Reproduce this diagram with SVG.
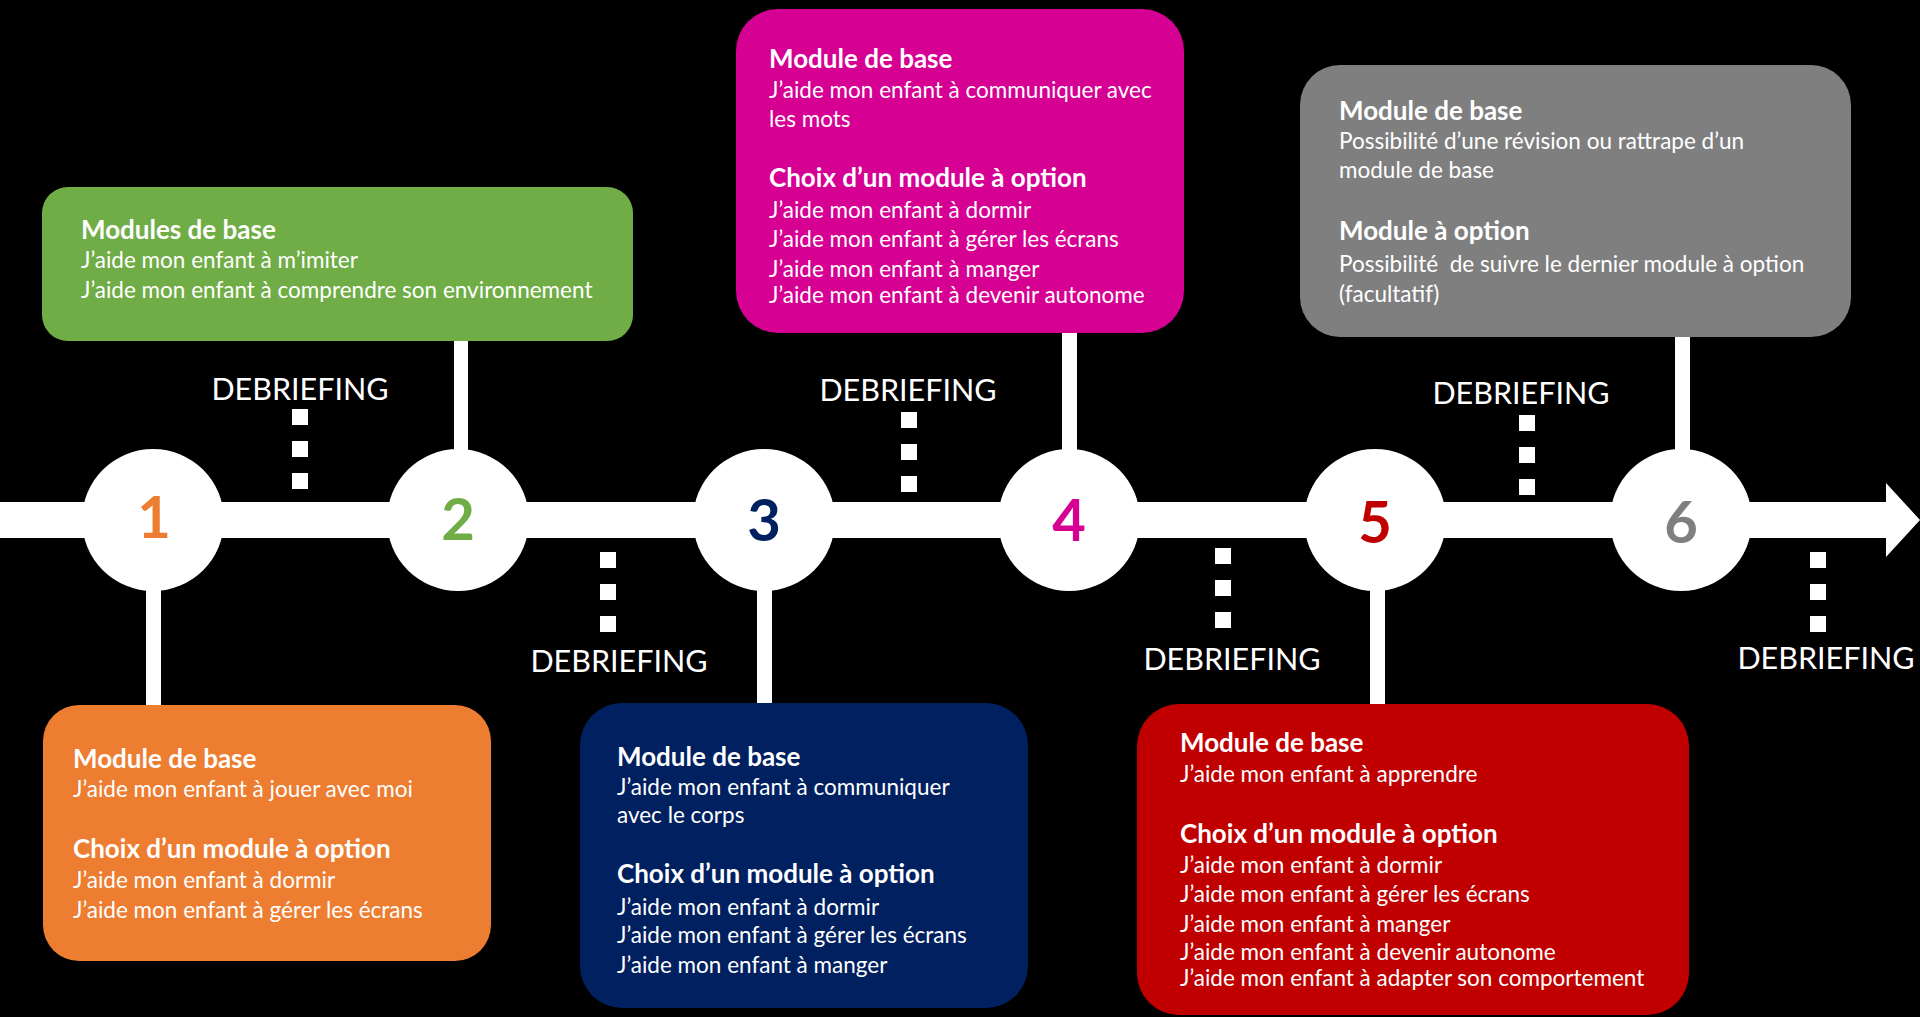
<svg xmlns="http://www.w3.org/2000/svg" width="1920" height="1017" viewBox="0 0 1920 1017">
<style>
text{font-family:Lato,"Liberation Sans",sans-serif;fill:#fff}
.h{font-weight:700;font-size:26px}
.b{font-size:22.5px}
.num{font-weight:700;font-size:58px;text-anchor:middle}
.deb{font-size:30.5px;text-anchor:middle}
.line{fill:#fff}
.dots{stroke:#fff;stroke-width:16;stroke-dasharray:16 16;fill:none}
.circ{fill:#fff}
</style>
<rect width="1920" height="1017" fill="#000"/>
<g id="connectors">
<g id="timeline">
<rect class="line" x="0" y="502" width="1887" height="36"/>
<polygon class="line" points="1886,483 1920,520 1886,557"/>
</g>
<rect class="line" x="146" y="585" width="15" height="122"/>
<rect class="line" x="454" y="339" width="14" height="115"/>
<rect class="line" x="757" y="585" width="15" height="120"/>
<rect class="line" x="1062" y="331" width="15" height="123"/>
<rect class="line" x="1370" y="585" width="15" height="121"/>
<rect class="line" x="1675" y="335" width="15" height="119"/>
</g>
<g id="debriefings">
<g id="debrief-1"><text class="deb" x="300" y="400">DEBRIEFING</text><line class="dots" x1="300" y1="409" x2="300" y2="489"/></g>
<g id="debrief-2"><line class="dots" x1="608" y1="552" x2="608" y2="632"/><text class="deb" x="619" y="672">DEBRIEFING</text></g>
<g id="debrief-3"><text class="deb" x="908" y="401">DEBRIEFING</text><line class="dots" x1="909" y1="412" x2="909" y2="492"/></g>
<g id="debrief-4"><line class="dots" x1="1223" y1="548" x2="1223" y2="628"/><text class="deb" x="1232" y="670">DEBRIEFING</text></g>
<g id="debrief-5"><text class="deb" x="1521" y="404">DEBRIEFING</text><line class="dots" x1="1527" y1="415" x2="1527" y2="495"/></g>
<g id="debrief-6"><line class="dots" x1="1818" y1="552" x2="1818" y2="632"/><text class="deb" x="1826" y="669">DEBRIEFING</text></g>
</g>
<g id="step-1"><circle class="circ" cx="153" cy="520" r="71"/><text class="num" x="154" y="538" style="fill:#ED7D31">1</text></g>
<g id="step-2"><circle class="circ" cx="458" cy="520" r="71"/><text class="num" x="458" y="540" style="fill:#70AD47">2</text></g>
<g id="step-3"><circle class="circ" cx="764" cy="520" r="71"/><text class="num" x="764" y="541" style="fill:#002060">3</text></g>
<g id="step-4"><circle class="circ" cx="1069" cy="520" r="71"/><text class="num" x="1069" y="541" style="fill:#D60093">4</text></g>
<g id="step-5"><circle class="circ" cx="1375" cy="520" r="71"/><text class="num" x="1375" y="543" style="fill:#C00000">5</text></g>
<g id="step-6"><circle class="circ" cx="1681" cy="520" r="71"/><text class="num" x="1681" y="543" style="fill:#7F7F7F">6</text></g>
<g id="box-1">
<rect x="43" y="705" width="448" height="256" rx="36" fill="#ED7D31"/>
<text class="h" x="73" y="768">Module de base</text>
<text class="b" x="73" y="797">J’aide mon enfant à jouer avec moi</text>
<text class="h" x="73" y="858">Choix d’un module à option</text>
<text class="b" x="73" y="888">J’aide mon enfant à dormir</text>
<text class="b" x="73" y="918">J’aide mon enfant à gérer les écrans</text>
</g>
<g id="box-2">
<rect x="42" y="187" width="591" height="154" rx="26" fill="#70AD47"/>
<text class="h" x="81" y="239">Modules de base</text>
<text class="b" x="81" y="268">J’aide mon enfant à m’imiter</text>
<text class="b" x="81" y="298">J’aide mon enfant à comprendre son environnement</text>
</g>
<g id="box-3">
<rect x="580" y="703" width="448" height="305" rx="42" fill="#002060"/>
<text class="h" x="617" y="766">Module de base</text>
<text class="b" x="617" y="795">J’aide mon enfant à communiquer</text>
<text class="b" x="617" y="823">avec le corps</text>
<text class="h" x="617" y="883">Choix d’un module à option</text>
<text class="b" x="617" y="915">J’aide mon enfant à dormir</text>
<text class="b" x="617" y="943">J’aide mon enfant à gérer les écrans</text>
<text class="b" x="617" y="973">J’aide mon enfant à manger</text>
</g>
<g id="box-4">
<rect x="736" y="9" width="448" height="324" rx="42" fill="#D60093"/>
<text class="h" x="769" y="68">Module de base</text>
<text class="b" x="769" y="98">J’aide mon enfant à communiquer avec</text>
<text class="b" x="769" y="127">les mots</text>
<text class="h" x="769" y="187">Choix d’un module à option</text>
<text class="b" x="769" y="218">J’aide mon enfant à dormir</text>
<text class="b" x="769" y="247">J’aide mon enfant à gérer les écrans</text>
<text class="b" x="769" y="277">J’aide mon enfant à manger</text>
<text class="b" x="769" y="303">J’aide mon enfant à devenir autonome</text>
</g>
<g id="box-5">
<rect x="1137" y="704" width="552" height="311" rx="42" fill="#C00000"/>
<text class="h" x="1180" y="752">Module de base</text>
<text class="b" x="1180" y="782">J’aide mon enfant à apprendre</text>
<text class="h" x="1180" y="843">Choix d’un module à option</text>
<text class="b" x="1180" y="873">J’aide mon enfant à dormir</text>
<text class="b" x="1180" y="902">J’aide mon enfant à gérer les écrans</text>
<text class="b" x="1180" y="932">J’aide mon enfant à manger</text>
<text class="b" x="1180" y="960">J’aide mon enfant à devenir autonome</text>
<text class="b" x="1180" y="986">J’aide mon enfant à adapter son comportement</text>
</g>
<g id="box-6">
<rect x="1300" y="65" width="551" height="272" rx="40" fill="#7F7F7F"/>
<text class="h" x="1339" y="120">Module de base</text>
<text class="b" x="1339" y="149">Possibilité d’une révision ou rattrape d’un</text>
<text class="b" x="1339" y="178">module de base</text>
<text class="h" x="1339" y="240">Module à option</text>
<text class="b" x="1339" y="272" xml:space="preserve">Possibilité  de suivre le dernier module à option</text>
<text class="b" x="1339" y="302">(facultatif)</text>
</g>
</svg>
